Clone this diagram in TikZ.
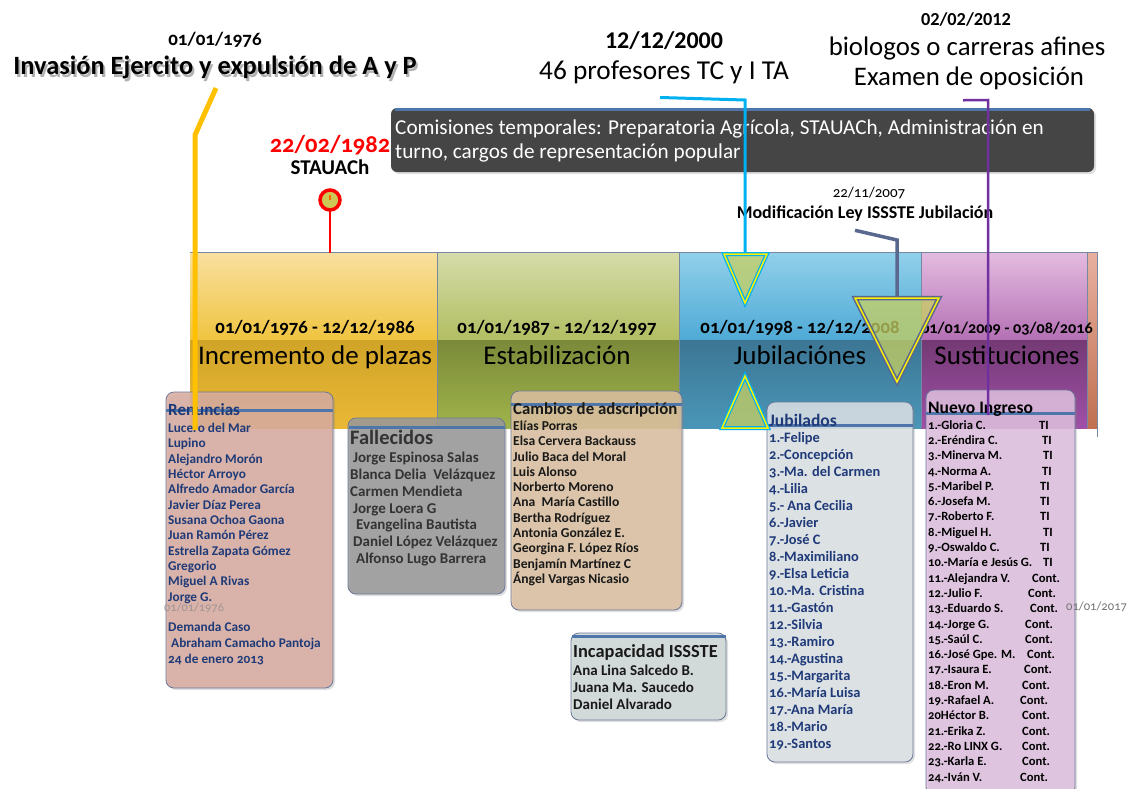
\documentclass[tikz,border=0pt]{standalone}
\usepackage{fontspec}
\setmainfont{Carlito}[Numbers=OldStyle]
\usetikzlibrary{positioning,shadows}

\definecolor{ylwA}{HTML}{F8E0A0}
\definecolor{ylwB}{HTML}{F0C440}
\definecolor{ylwC}{HTML}{D0A428}
\definecolor{ylwD}{HTML}{EAB836}
\definecolor{grnA}{HTML}{D6DCAA}
\definecolor{grnB}{HTML}{B2BE62}
\definecolor{grnC}{HTML}{7A8A3A}
\definecolor{grnD}{HTML}{A0B44A}
\definecolor{bluA}{HTML}{92D0EA}
\definecolor{bluB}{HTML}{4EAAD6}
\definecolor{bluC}{HTML}{3C7694}
\definecolor{bluD}{HTML}{4A96B8}
\definecolor{purA}{HTML}{E4BCE0}
\definecolor{purB}{HTML}{B470B4}
\definecolor{purC}{HTML}{743A74}
\definecolor{purD}{HTML}{A050A8}
\definecolor{orgA}{HTML}{E8B0A0}
\definecolor{orgB}{HTML}{C07050}
\definecolor{sepgray}{HTML}{7888A0}
\definecolor{stripe}{HTML}{4E76AA}
\definecolor{navyt}{HTML}{1F3A78}
\definecolor{boxedge}{HTML}{6A7898}
\definecolor{renfill}{HTML}{D8ACA0}
\definecolor{falfill}{HTML}{999999}
\definecolor{camfill}{HTML}{DCC0A0}
\definecolor{incfill}{HTML}{D0D8D8}
\definecolor{jubfill}{HTML}{DDE2E6}
\definecolor{nuefill}{HTML}{E0C0E0}
\definecolor{comfill}{HTML}{454545}
\definecolor{trifill}{HTML}{C8D060}
\definecolor{yline}{HTML}{FFC000}
\definecolor{cline}{HTML}{00B0F0}
\definecolor{pline}{HTML}{7030A0}
\definecolor{sline}{HTML}{5A6890}
\definecolor{faint}{HTML}{A09494}

\tikzset{
  lbl/.style={inner sep=0pt, align=center},
  lst/.style={inner sep=0pt, anchor=west},
  listbox/.style={draw=boxedge, line width=0.8pt, rounded corners=8pt,
    fill opacity=0.85, drop shadow={opacity=0.25, shadow xshift=2pt, shadow yshift=-2pt}},
  hdrline/.style={stripe, line width=3pt},
  fsz/.style={font=\fontsize{#1}{#1}\selectfont,
    text height={\dimexpr #1pt*7/10\relax}, text depth={\dimexpr #1pt*2/10\relax}},
  bsz/.style={font=\bfseries\fontsize{#1}{#1}\selectfont,
    text height={\dimexpr #1pt*7/10\relax}, text depth={\dimexpr #1pt*2/10\relax}}
}

\begin{document}
\begin{tikzpicture}[x=1pt,y=-1pt]
\useasboundingbox (0,0) rectangle (1128,788);

% periodos
\shade[top color=ylwA,bottom color=ylwB] (190,252) rectangle (437,340);
\shade[top color=ylwC,bottom color=ylwD] (190,340) rectangle (437,428);
\shade[top color=grnA,bottom color=grnB] (437,252) rectangle (679,340);
\shade[top color=grnC,bottom color=grnD] (437,340) rectangle (679,428);
\shade[top color=bluA,bottom color=bluB] (679,252) rectangle (921,340);
\shade[top color=bluC,bottom color=bluD] (679,340) rectangle (921,428);
\shade[top color=purA,bottom color=purB] (921,252) rectangle (1087,340);
\shade[top color=purC,bottom color=purD] (921,340) rectangle (1087,428);
\shade[top color=orgA,bottom color=orgB] (1087,252) rectangle (1097,428);
\draw[sepgray, line width=0.6pt] (190,252) -- (1097,252);
\foreach \sx in {437,679,921,1087}
  \draw[sepgray, line width=0.6pt] (\sx,252) -- (\sx,428);
\draw[sepgray, line width=0.6pt] (1097,252) -- (1097,437);

\foreach \cx/\dt/\ttl/\ds [count=\k] in {315/{01/01/1976 - 12/12/1986}/{Incremento de plazas}/18.8,
    557/{01/01/1987 - 12/12/1997}/{Estabilización}/18.8,
    800/{01/01/1998 - 12/12/2008}/{Jubilaciónes}/18.8,
    1007/{01/01/2009 - 03/08/2016}/{Sustituciones}/16.2} {
  \node[lbl, bsz=\ds] (dt\k) at (\cx,329) {\dt};
  \node[lbl, fsz=27] (pt\k) at (\cx,358) {\ttl};
}

% comisiones
\node[listbox, draw=none, fill=comfill, fill opacity=1, rounded corners=6pt,
  minimum width=703pt, minimum height=64pt] (com) at (742.5,140) {};
\draw[stripe, line width=3pt] ([xshift=4pt,yshift=-1.5pt]com.north west) -- ([xshift=-4pt,yshift=-1.5pt]com.north east);
\node[lst, fsz=21.2, text=white] (com1) at (395,129) {Comisiones temporales: Preparatoria Agrícola, STAUACh, Administración en};
\node[lst, fsz=21.2, text=white] (com2) at (395,153) {turno, cargos de representación popular};

% eventos de arriba
\node[lbl, bsz=19] (d76) at (215,41) {01/01/1976};
\node[lbl, bsz=26.4, text=black!30] (invS) at (217,71) {Invasión Ejercito y expulsión de A y P};
\node[lbl, bsz=26.4] (inv) at (215,68) {Invasión Ejercito y expulsión de A y P};
\node[lbl, bsz=24.5, text=red] (d82) at (330,146) {22/02/1982};
\node[lbl, bsz=21] (sta) at (330,169) {STAUACh};
\node[lbl, bsz=24] (d00) at (664,42) {\addfontfeatures{Numbers=Lining}12/12/2000};
\node[lbl, fsz=27.3] (prof) at (664,73) {\addfontfeatures{Numbers=Lining}46 profesores TC y I TA};
\node[lbl, bsz=18.3] (d12) at (966,21) {\addfontfeatures{Numbers=Lining}02/02/2012};
\node[lbl, fsz=26.8] (bio) at (967,49) {biologos o carreras afines};
\node[lbl, fsz=26.8] (exa) at (969,79) {Examen de oposición};
\node[lbl, fsz=15] (d07) at (869,194) {22/11/2007};
\node[lbl, bsz=18] (mod) at (865,214) {Modificación Ley ISSSTE Jubilación};

% cajas
\node[listbox, fill=renfill, minimum width=167pt, minimum height=296pt] (ren) at (249.5,540) {};
\node[listbox, fill=falfill, minimum width=157pt, minimum height=176pt] (fal) at (426.5,506) {};
\node[listbox, fill=camfill, minimum width=171pt, minimum height=219pt] (cam) at (596.5,500.5) {};
\node[listbox, fill=incfill, minimum width=155pt, minimum height=87pt] (inc) at (648.5,676.5) {};
\node[listbox, fill=jubfill, minimum width=146pt, minimum height=360pt] (jub) at (840,582) {};
\node[listbox, fill=nuefill, minimum width=149pt, minimum height=405pt] (nue) at (1000.5,592.5) {};

\draw[hdrline] (166,410) -- (333,410);
\draw[hdrline] (349,427) -- (505,427);
\draw[hdrline] (511,404) -- (682,404);
\draw[hdrline] (572,636) -- (726,636);
\draw[hdrline] (767,425) -- (913,425);
\draw[hdrline] (926,413) -- (1075,413);

% Renuncias
\node[lst, bsz=17, text=navyt] (renh) at (168,411) {Renuncias};
\foreach \nm [count=\k from 0] in {Lucero del Mar, Lupino, Alejandro Morón, Héctor Arroyo,
    Alfredo Amador García, Javier Díaz Perea, Susana Ochoa Gaona, Juan Ramón Pérez,
    Estrella Zapata Gómez, Gregorio, Miguel A Rivas, Jorge G.}
  \node[lst, bsz=13.3, text=navyt] at (168,{429+15.35*\k}) {\nm};
\node[lst, fsz=12.4, text=faint] (ren76) at (164,608) {01/01/1976};
\node[lst, bsz=13.3, text=navyt] at (168,628) {Demanda Caso};
\node[lst, bsz=13.3, text=navyt] at (171,644) {Abraham Camacho Pantoja};
\node[lst, bsz=13.3, text=navyt] at (168,660) {24 de enero 2013};

% Fallecidos
\node[lst, bsz=20.5, text=black!80] (falh) at (350,439) {Fallecidos};
\foreach \nm/\dx [count=\k from 0] in {Jorge Espinosa Salas/3, Blanca Delia\ \ Velázquez/0,
    Carmen Mendieta/0, Jorge Loera G/3, Evangelina Bautista/6, Daniel López Velázquez/3,
    Alfonso Lugo Barrera/6}
  \node[lst, bsz=15, text=black!80] at ({350+\dx},{459+16.8*\k}) {\nm};

% Cambios de adscripcion
\node[lst, bsz=16.8, text=black!90] (camh) at (513,410) {Cambios de adscripción};
\foreach \nm [count=\k from 0] in {Elías Porras, Elsa Cervera Backauss, Julio Baca del Moral,
    Luis Alonso, Norberto Moreno, Ana\ \ María Castillo, Bertha Rodríguez, Antonia González E.,
    Georgina F. López Ríos, Benjamín Martínez C, Ángel Vargas Nicasio}
  \node[lst, bsz=13.6, text=black!90] at (513,{427+15.3*\k}) {\nm};

% Incapacidad
\node[lst, bsz=18.4, text=black!90] (inch) at (573,653) {Incapacidad ISSSTE};
\foreach \nm [count=\k from 0] in {Ana Lina Salcedo B., Juana Ma. Saucedo, Daniel Alvarado}
  \node[lst, bsz=15, text=black!90] at (573,{672+17*\k}) {\nm};

% Jubilados
\node[lst, bsz=17.5, text=navyt] (jubh) at (769,422) {Jubilados};
\foreach \nm [count=\k from 0] in {1.-Felipe, 2.-Concepción, 3.-Ma. del Carmen, 4.-Lilia,
    5.- Ana Cecilia, 6.-Javier, 7.-José C, 8.-Maximiliano, 9.-Elsa Leticia, 10.-Ma. Cristina,
    11.-Gastón, 12.-Silvia, 13.-Ramiro, 14.-Agustina, 15.-Margarita, 16.-María Luisa,
    17.-Ana María, 18.-Mario, 19.-Santos}
  \node[lst, bsz=14.4, text=navyt] at (769,{439+17*\k}) {\nm};

% Nuevo ingreso
\node[lst, bsz=17.5, text=black] (nueh) at (928,409) {Nuevo Ingreso};
\foreach \nm/\st/\sx [count=\k from 0] in {1.-Gloria C./TI/1039, 2.-Eréndira C./TI/1042,
    3.-Minerva M./TI/1043, 4.-Norma A./TI/1042, 5.-Maribel P./TI/1040, 6.-Josefa M./TI/1040,
    7.-Roberto F./TI/1040, 8.-Miguel H./TI/1043, 9.-Oswaldo C./TI/1040,
    10.-María e Jesús G./TI/1043, 11.-Alejandra V./Cont./1032, 12.-Julio F./Cont./1028,
    13.-Eduardo S./Cont./1030, 14.-Jorge G./Cont./1025, 15.-Saúl C./Cont./1025,
    16.-José Gpe. M./Cont./1027, 17.-Isaura E./Cont./1024, 18.-Eron M./Cont./1022,
    19.-Rafael A./Cont./1020, 20Héctor B./Cont./1022, 21.-Erika Z./Cont./1022,
    22.-Ro LINX G./Cont./1022, 23.-Karla E./Cont./1022, 24.-Iván V./Cont./1020} {
  \node[lst, bsz=12.6] at (928,{426+15.3*\k}) {\nm};
  \node[lst, bsz=12.6] at (\sx,{426+15.3*\k}) {\st};
}
\node[lst, fsz=12.6, text=black!55] (d17) at (1066,607) {01/01/2017};

% marcadores y lineas
\coordinate (yb) at (195,135);
\coordinate (ye) at (195,430);
\draw[yline, line width=5pt] ([xshift=1pt,yshift=-8pt]inv.south) -- (yb) -- (ye);

\coordinate (rc) at (330,200);
\coordinate (rb) at (330,253);
\draw[red, line width=2.5pt] (rc) -- (rb);
\filldraw[draw=red, fill=trifill!90!orange, line width=3.5pt] (rc) circle (10pt);
\draw[orange!80!red, line width=2pt] (rc) -- ++(0,-5);

\coordinate (cb) at (745,100);
\coordinate (ct) at (745,254);
\draw[cline, line width=3pt] ([xshift=-4pt,yshift=-12pt]prof.south) -- (cb) -- (ct);
\foreach \tri in {{(724,254) -- (767,254) -- (745,303) -- cycle},
                  {(745,376) -- (768,428) -- (722,428) -- cycle}} {
  \fill[trifill, fill opacity=0.75] \tri;
  \draw[cline, line width=4pt, line join=miter] \tri;
  \draw[yellow, line width=1.5pt, line join=miter] \tri;
}

\coordinate (pb) at (988,100);
\coordinate (pe) at (988,415);
\draw[pline, line width=2.5pt] ([xshift=-6pt,yshift=-9pt]exa.south) -- (pb) -- (pe);

\coordinate (sb) at (897,240);
\coordinate (st) at (897,298);
\draw[sline, line width=3.5pt] ([xshift=-10pt,yshift=-8pt]mod.south) -- (sb) -- (st);
\fill[trifill, fill opacity=0.75] (855,298) -- (939,298) -- (897,382) -- cycle;
\draw[sline, line width=4.5pt, line join=miter] (855,298) -- (939,298) -- (897,382) -- cycle;
\draw[yellow, line width=1.5pt, line join=miter] (855,298) -- (939,298) -- (897,382) -- cycle;

\end{tikzpicture}
\end{document}
